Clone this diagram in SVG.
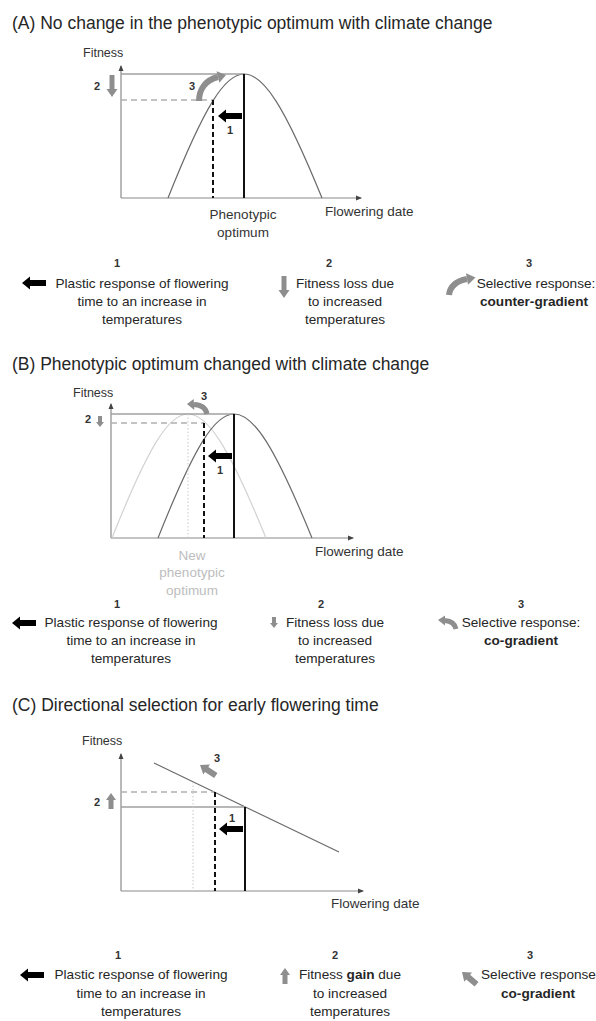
<svg xmlns="http://www.w3.org/2000/svg" xmlns:xlink="http://www.w3.org/1999/xlink" width="596" height="1021" viewBox="0 0 596 1021">
<style>
text{font-family:"Liberation Sans",Arial,sans-serif;fill:#262626}
.title{font-size:17.5px}
.ax{font-size:12.5px;fill:#333}
.lab{font-size:13.5px;fill:#333}
.num{font-size:11px;font-weight:bold;text-anchor:middle;fill:#333}
.leg{font-size:13.6px;text-anchor:middle}
.b{font-weight:bold}
.new{font-size:13.5px;fill:#bdbdbd;text-anchor:middle}
.axis{stroke:#8a8a8a;stroke-width:1.2;fill:none}
.curve{stroke:#6a6a6a;stroke-width:1.2;fill:none}
.curveL{stroke:#d2d2d2;stroke-width:1.2;fill:none}
.hline{stroke:#a0a0a0;stroke-width:1.3}
.hdash{stroke:#b0b0b0;stroke-width:1.3;stroke-dasharray:6 4}
.vdash{stroke:#111;stroke-width:2;stroke-dasharray:5 3}
.vsolid{stroke:#111;stroke-width:2}
.vdot{stroke:#c8c8c8;stroke-width:1;stroke-dasharray:1.5 2}
.garr{fill:#8e8e8e}
.gcurve{stroke:#8e8e8e;stroke-width:6;fill:none}
.gcurve5{stroke:#8e8e8e;stroke-width:5;fill:none}
</style>
<defs>
<marker id="ah" markerWidth="6" markerHeight="6" refX="5" refY="3" orient="auto" markerUnits="userSpaceOnUse">
<path d="M0,0.5 L6,3 L0,5.5 z" fill="#444"/>
</marker>
<path id="blk" d="M0,0 L8,-6.5 L8,-3 L24,-3 L24,3 L8,3 L8,6.5 Z" fill="#000"/>
<path id="gdown" d="M0,0 L-5.5,-8 L-2.5,-8 L-2.5,-22 L2.5,-22 L2.5,-8 L5.5,-8 Z"/>
<path id="gdownS" d="M0,0 L-4,-5 L-2,-5 L-2,-11 L2,-11 L2,-5 L4,-5 Z"/>
<path id="gup" d="M0,0 L-5,7 L-2.5,7 L-2.5,16 L2.5,16 L2.5,7 L5,7 Z"/>
<path id="gdiag" d="M0,0 L8,-6 L8,-3 L19,-3 L19,3 L8,3 L8,6 Z"/>
</defs>

<g id="panelA">
<text class="title" x="12" y="29">(A) No change in the phenotypic optimum with climate change</text>
<text class="ax" x="83" y="57">Fitness</text>
<line class="axis" x1="121" y1="198" x2="121" y2="66" marker-end="url(#ah)"/>
<line class="axis" x1="121" y1="198" x2="361" y2="198" marker-end="url(#ah)"/>
<path class="curve" d="M168,198 C205,105 225,74 244,74 C263.5,74 284,105 322,198"/>
<line class="hline" x1="121" y1="74" x2="244" y2="74"/>
<line class="hdash" x1="121" y1="100" x2="213" y2="100"/>
<line class="vdash" x1="213" y1="100" x2="213" y2="198"/>
<line class="vsolid" x1="244" y1="74" x2="244" y2="198"/>
<use href="#blk" x="218" y="116"/>
<use href="#gdown" x="112" y="97" class="garr"/>
<path class="gcurve" d="M199,101 C199,90 205,80 218,77"/>
<polygon class="garr" points="226,75 219.4,82.8 216.6,71.2"/>
<text class="num" x="230" y="134">1</text>
<text class="num" x="97" y="90">2</text>
<text class="num" x="192" y="90">3</text>
<text class="lab" x="325" y="216">Flowering date</text>
<text class="lab" x="243" y="219" text-anchor="middle">Phenotypic</text>
<text class="lab" x="243" y="237" text-anchor="middle">optimum</text>
</g>

<g id="legendA">
<text class="num" x="117" y="267">1</text>
<use href="#blk" x="22" y="283"/>
<text class="leg" x="142" y="288">Plastic response of flowering</text>
<text class="leg" x="142" y="306">time to an increase in</text>
<text class="leg" x="142" y="324">temperatures</text>
<text class="num" x="329" y="267">2</text>
<use href="#gdown" x="284" y="298" class="garr"/>
<text class="leg" x="345" y="288">Fitness loss due</text>
<text class="leg" x="345" y="306">to increased</text>
<text class="leg" x="345" y="324">temperatures</text>
<text class="num" x="529" y="267">3</text>
<path class="gcurve" d="M449,295 C450,287 456,281 467,279"/>
<polygon class="garr" points="475.5,277.5 468,284.8 466,273.2"/>
<text class="leg" x="536" y="288">Selective response:</text>
<text class="leg b" x="534" y="306">counter-gradient</text>
</g>

<g id="panelB">
<text class="title" x="12" y="370">(B) Phenotypic optimum changed with climate change</text>
<text class="ax" x="73" y="397">Fitness</text>
<line class="axis" x1="111" y1="538" x2="111" y2="404" marker-end="url(#ah)"/>
<line class="axis" x1="111" y1="538" x2="353" y2="538" marker-end="url(#ah)"/>
<path class="curveL" d="M112,538 C149,445 169,414 188,414 C207.5,414 228,445 266,538"/>
<path class="curve" d="M158,538 C195,445 215,414 234,414 C253.5,414 274,445 312,538"/>
<line class="hline" x1="111" y1="414" x2="234" y2="414"/>
<line class="hdash" x1="111" y1="423" x2="204" y2="423"/>
<line class="vdot" x1="188" y1="414" x2="188" y2="538"/>
<line class="vdash" x1="204" y1="423" x2="204" y2="538"/>
<line class="vsolid" x1="234" y1="414" x2="234" y2="538"/>
<use href="#blk" x="208" y="456"/>
<use href="#gdownS" x="100" y="427" class="garr"/>
<path class="gcurve5" d="M207,414 C206,408 202,405 194,404.5"/>
<polygon class="garr" points="187,404 194.3,410 193.7,399"/>
<text class="num" x="220" y="474">1</text>
<text class="num" x="88" y="423">2</text>
<text class="num" x="204" y="400">3</text>
<text class="lab" x="315" y="556">Flowering date</text>
<text class="new" x="192" y="560">New</text>
<text class="new" x="192" y="577">phenotypic</text>
<text class="new" x="192" y="595">optimum</text>
</g>

<g id="legendB">
<text class="num" x="117" y="608">1</text>
<use href="#blk" x="12" y="623"/>
<text class="leg" x="131" y="627">Plastic response of flowering</text>
<text class="leg" x="131" y="645">time to an increase in</text>
<text class="leg" x="131" y="663">temperatures</text>
<text class="num" x="321" y="608">2</text>
<use href="#gdownS" x="274" y="628" class="garr"/>
<text class="leg" x="335" y="627">Fitness loss due</text>
<text class="leg" x="335" y="645">to increased</text>
<text class="leg" x="335" y="663">temperatures</text>
<text class="num" x="521" y="608">3</text>
<path class="gcurve5" d="M456,629 C455,624 451,621 445,620.5"/>
<polygon class="garr" points="438,620 445,615.5 445,625.5"/>
<text class="leg" x="521" y="627">Selective response:</text>
<text class="leg b" x="521" y="645">co-gradient</text>
</g>

<g id="panelC">
<text class="title" x="12" y="711">(C) Directional selection for early flowering time</text>
<text class="ax" x="82" y="745">Fitness</text>
<line class="axis" x1="121" y1="891" x2="121" y2="754" marker-end="url(#ah)"/>
<line class="axis" x1="121" y1="891" x2="363" y2="891" marker-end="url(#ah)"/>
<line class="curve" x1="154" y1="763" x2="339" y2="852"/>
<line class="hline" x1="121" y1="807" x2="245" y2="807"/>
<line class="hdash" x1="121" y1="792" x2="215" y2="792"/>
<line class="vdot" x1="193" y1="782" x2="193" y2="891"/>
<line class="vdash" x1="215" y1="792" x2="215" y2="891"/>
<line class="vsolid" x1="245" y1="807" x2="245" y2="891"/>
<use href="#blk" x="219" y="829"/>
<use href="#gup" x="111" y="793" class="garr"/>
<use href="#gdiag" transform="translate(200,765) rotate(33.7)" class="garr"/>
<text class="num" x="232" y="822">1</text>
<text class="num" x="97" y="806">2</text>
<text class="num" x="217" y="762">3</text>
<text class="lab" x="331" y="908">Flowering date</text>
</g>

<g id="legendC">
<text class="num" x="118" y="959">1</text>
<use href="#blk" x="20" y="975"/>
<text class="leg" x="141" y="979">Plastic response of flowering</text>
<text class="leg" x="141" y="998">time to an increase in</text>
<text class="leg" x="141" y="1016">temperatures</text>
<text class="num" x="335" y="959">2</text>
<use href="#gup" x="285" y="968" class="garr"/>
<text class="leg" x="350" y="979">Fitness <tspan class="b">gain</tspan> due</text>
<text class="leg" x="350" y="998">to increased</text>
<text class="leg" x="350" y="1016">temperatures</text>
<text class="num" x="530" y="959">3</text>
<use href="#gdiag" transform="translate(462,972) rotate(40)" class="garr"/>
<text class="leg" x="481" y="979" style="text-anchor:start">Selective response</text>
<text class="leg b" x="538" y="998">co-gradient</text>
</g>
</svg>
